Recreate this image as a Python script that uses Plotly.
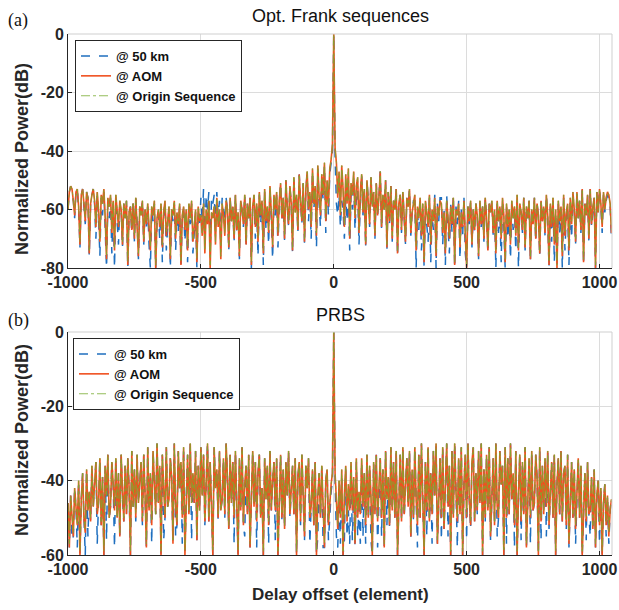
import plotly.graph_objects as go

# Delay offsets (elements), sampled every 5 elements: -1000 ... 1045
delay = list(range(-1000, 1046, 5))

# tick labels
xticks = [-1000, -500, 0, 500, 1000]
xtick_text = ["-1000", "-500", "0", "500", "1000"]
yticks_a = [-80, -60, -40, -20, 0]
ytick_text_a = ["-80", "-60", "-40", "-20", "0"]
yticks_b = [-60, -40, -20, 0]
ytick_text_b = ["-60", "-40", "-20", "0"]

# ---- Panel (a): Opt. Frank sequences (dB) ----
km50_a = [
    -60, -54, -52, -54, -57, -63, -54, -53, -60, -73, -55, -53, -59, -65, -54, -56, -76, -58, -55, -53,
    -58, -70, -55, -63, -76, -56, -62, -54, -67, -80, -58, -63, -56, -75, -58, -80, -56, -65, -72, -58,
    -60, -73, -58, -63, -57, -80, -61, -59, -68, -58, -71, -56, -64, -77, -59, -62, -57, -72, -60, -66,
    -59, -72, -80, -60, -64, -58, -80, -65, -61, -70, -59, -78, -62, -58, -74, -66, -60, -80, -61, -64,
    -58, -74, -62, -68, -59, -80, -63, -60, -71, -61, -78, -59, -65, -58, -75, -68, -61, -80, -60, -66,
    -56, -64, -53, -70, -55, -60, -54, -74, -56, -58, -55, -66, -54, -62, -57, -72, -56, -60, -64, -56,
    -60, -74, -56, -64, -59, -71, -55, -68, -61, -77, -57, -60, -66, -55, -73, -58, -63, -56, -80, -59,
    -56, -70, -59, -76, -55, -65, -58, -79, -54, -67, -60, -72, -53, -63, -77, -56, -62, -55, -73, -58,
    -51, -64, -56, -71, -50, -59, -66, -52, -58, -75, -49, -61, -55, -68, -48, -57, -65, -51, -72, -53,
    -48, -64, -55, -70, -47, -60, -54, -73, -46, -58, -66, -49, -57, -45, -68, -52, -62, -48, -44, -40,
    0,
    -42, -58, -62, -55, -66, -57, -60, -70, -56, -64, -52, -74, -55, -60, -50, -67, -56, -53, -72, -57,
    -48, -62, -53, -73, -50, -57, -66, -49, -59, -54, -70, -51, -62, -56, -47, -67, -55, -60, -50, -74,
    -54, -65, -52, -71, -57, -60, -53, -76, -58, -55, -68, -54, -62, -72, -56, -59, -53, -69, -61, -57,
    -57, -80, -61, -67, -58, -74, -60, -80, -59, -64, -71, -56, -78, -62, -67, -55, -80, -58, -64, -56,
    -56, -72, -60, -79, -55, -66, -75, -58, -68, -55, -80, -59, -65, -57, -77, -60, -69, -56, -75, -80,
    -59, -65, -57, -73, -60, -68, -58, -62, -77, -57, -66, -59, -71, -56, -63, -75, -58, -61, -57, -69,
    -61, -80, -58, -68, -60, -78, -57, -66, -80, -59, -70, -61, -77, -58, -67, -60, -74, -56, -80, -59,
    -61, -68, -56, -74, -59, -63, -57, -78, -60, -66, -56, -71, -58, -62, -76, -57, -64, -59, -69, -55,
    -63, -80, -59, -71, -57, -78, -61, -80, -58, -68, -60, -80, -56, -74, -62, -59, -79, -57, -70, -55,
    -60, -72, -54, -63, -57, -68, -53, -79, -58, -62, -55, -71, -53, -66, -59, -56, -80, -54, -61, -53,
    -59, -68, -55, -61, -57, -55, -56, -59, -70,
]
aom_a = [
    -60, -54, -52, -53, -57, -62, -54, -53, -59, -72, -55, -53, -58, -64, -54, -56, -75, -58, -55, -53,
    -57, -66, -54, -60, -71, -55, -58, -53, -63, -77, -56, -59, -55, -68, -57, -74, -55, -61, -66, -57,
    -60, -72, -58, -63, -57, -79, -61, -59, -67, -58, -70, -56, -64, -76, -59, -62, -57, -71, -60, -65,
    -58, -68, -74, -59, -62, -57, -80, -63, -60, -66, -58, -73, -61, -57, -69, -64, -59, -77, -60, -62,
    -57, -70, -61, -65, -58, -79, -62, -59, -67, -60, -74, -58, -63, -57, -71, -66, -60, -78, -59, -64,
    -62, -69, -58, -75, -60, -65, -57, -80, -61, -63, -59, -72, -56, -66, -60, -77, -58, -62, -69, -57,
    -60, -73, -56, -64, -59, -70, -55, -67, -61, -76, -57, -60, -65, -55, -72, -58, -63, -56, -79, -59,
    -55, -66, -58, -71, -54, -62, -57, -75, -53, -64, -59, -68, -52, -61, -73, -55, -60, -54, -69, -57,
    -51, -63, -56, -70, -50, -59, -65, -52, -58, -74, -49, -61, -55, -67, -48, -57, -64, -51, -71, -53,
    -47, -60, -54, -66, -46, -58, -52, -69, -45, -56, -62, -48, -55, -44, -64, -50, -59, -46, -43, -38,
    0,
    -39, -44, -56, -47, -62, -45, -53, -66, -48, -58, -46, -70, -51, -55, -47, -63, -52, -49, -68, -54,
    -48, -61, -53, -72, -50, -57, -65, -49, -59, -54, -69, -51, -62, -56, -47, -66, -55, -60, -50, -73,
    -54, -64, -52, -70, -57, -60, -53, -75, -58, -55, -67, -54, -62, -71, -56, -59, -53, -68, -61, -57,
    -55, -74, -59, -63, -56, -69, -58, -78, -57, -61, -66, -55, -72, -60, -64, -56, -76, -59, -62, -57,
    -58, -68, -61, -75, -57, -63, -70, -59, -65, -56, -79, -60, -62, -58, -73, -61, -66, -57, -71, -80,
    -59, -64, -57, -72, -60, -67, -58, -62, -76, -57, -65, -59, -70, -56, -63, -74, -58, -61, -57, -68,
    -60, -75, -57, -64, -59, -70, -56, -62, -78, -58, -66, -60, -72, -57, -63, -59, -69, -55, -74, -58,
    -61, -67, -56, -73, -59, -63, -57, -77, -60, -65, -56, -70, -58, -62, -75, -57, -64, -59, -68, -55,
    -62, -79, -58, -66, -56, -72, -60, -80, -57, -64, -59, -76, -55, -69, -61, -58, -74, -56, -65, -54,
    -60, -71, -54, -63, -57, -67, -53, -78, -58, -62, -55, -70, -53, -65, -59, -56, -80, -54, -61, -53,
    -58, -66, -54, -60, -56, -54, -55, -58, -68,
]
origin_a = [
    -60, -54, -52, -53, -57, -61, -54, -53, -59, -71, -55, -53, -58, -63, -54, -56, -74, -58, -55, -53,
    -57, -65, -54, -60, -70, -55, -58, -53, -63, -76, -56, -59, -55, -67, -57, -73, -55, -61, -65, -57,
    -60, -71, -58, -63, -57, -78, -61, -59, -66, -58, -69, -56, -64, -75, -59, -62, -57, -70, -60, -64,
    -58, -67, -73, -59, -62, -57, -79, -63, -60, -65, -58, -72, -61, -57, -68, -64, -59, -76, -60, -62,
    -57, -69, -61, -64, -58, -78, -62, -59, -66, -60, -73, -58, -63, -57, -70, -65, -60, -77, -59, -63,
    -62, -68, -58, -74, -60, -64, -57, -79, -61, -63, -59, -71, -56, -65, -60, -76, -58, -62, -68, -57,
    -60, -72, -56, -64, -59, -69, -55, -66, -61, -75, -57, -60, -64, -55, -71, -58, -63, -56, -78, -59,
    -55, -65, -58, -70, -54, -62, -57, -74, -53, -63, -59, -67, -52, -61, -72, -55, -60, -54, -68, -57,
    -51, -62, -56, -69, -50, -59, -64, -52, -58, -73, -49, -61, -55, -66, -48, -57, -63, -51, -70, -53,
    -47, -59, -54, -65, -46, -58, -52, -68, -45, -56, -61, -48, -55, -44, -63, -50, -58, -46, -43, -38,
    0,
    -39, -44, -55, -47, -61, -45, -53, -65, -48, -57, -46, -69, -51, -55, -47, -62, -52, -49, -67, -54,
    -48, -60, -53, -71, -50, -57, -64, -49, -59, -54, -68, -51, -61, -56, -47, -65, -55, -60, -50, -72,
    -54, -63, -52, -69, -57, -60, -53, -74, -58, -55, -66, -54, -62, -70, -56, -59, -53, -67, -61, -57,
    -55, -73, -59, -63, -56, -68, -58, -77, -57, -61, -65, -55, -71, -60, -64, -56, -75, -59, -62, -57,
    -58, -67, -61, -74, -57, -63, -69, -59, -64, -56, -78, -60, -62, -58, -72, -61, -65, -57, -70, -79,
    -59, -63, -57, -71, -60, -66, -58, -62, -75, -57, -64, -59, -69, -56, -63, -73, -58, -61, -57, -67,
    -60, -74, -57, -64, -59, -69, -56, -62, -77, -58, -65, -60, -71, -57, -63, -59, -68, -55, -73, -58,
    -61, -66, -56, -72, -59, -63, -57, -76, -60, -64, -56, -69, -58, -62, -74, -57, -63, -59, -67, -55,
    -62, -78, -58, -65, -56, -71, -60, -79, -57, -63, -59, -75, -55, -68, -61, -58, -73, -56, -64, -54,
    -60, -70, -54, -63, -57, -66, -53, -77, -58, -62, -55, -69, -53, -64, -59, -56, -79, -54, -61, -53,
    -58, -65, -54, -60, -56, -54, -55, -58, -67,
]

# ---- Panel (b): PRBS (dB) ----
km50_b = [
    -46, -58, -44, -56, -55, -42, -47, -58, -40, -60, -45, -38, -50, -60, -37, -55, -43, -51, -36, -47,
    -41, -35, -57, -46, -34, -52, -39, -60, -36, -56, -33, -50, -47, -35, -41, -58, -34, -50, -38, -55,
    -33, -45, -51, -36, -49, -34, -42, -60, -32, -47, -37, -51, -33, -46, -40, -35, -52, -33, -44, -58,
    -31, -48, -38, -57, -32, -43, -49, -30, -46, -36, -60, -33, -56, -50, -31, -47, -45, -34, -39, -57,
    -30, -55, -52, -32, -42, -35, -57, -31, -60, -44, -33, -49, -30, -56, -38, -46, -32, -56, -36, -48,
    -31, -44, -33, -52, -40, -30, -51, -35, -47, -60, -31, -42, -37, -51, -32, -48, -45, -34, -50, -30,
    -39, -53, -33, -46, -35, -57, -32, -43, -60, -34, -48, -31, -52, -55, -36, -49, -33, -58, -44, -32,
    -47, -35, -58, -38, -33, -50, -42, -60, -34, -45, -36, -57, -32, -48, -40, -35, -56, -34, -60, -43,
    -33, -51, -37, -53, -35, -44, -32, -50, -41, -36, -49, -34, -60, -39, -35, -52, -33, -46, -56, -36,
    -42, -34, -57, -47, -37, -52, -35, -60, -55, -38, -50, -36, -58, -58, -40, -37, -56, -50, -43, -40,
    0,
    -40, -55, -58, -45, -57, -39, -60, -56, -37, -55, -48, -57, -36, -56, -42, -58, -35, -55, -47, -57,
    -35, -55, -38, -57, -33, -50, -36, -56, -60, -35, -49, -33, -58, -42, -34, -55, -37, -58, -32, -52,
    -39, -53, -31, -48, -35, -51, -32, -60, -43, -33, -51, -31, -50, -40, -34, -47, -32, -56, -37, -51,
    -31, -45, -58, -33, -50, -30, -42, -60, -35, -55, -31, -51, -38, -57, -32, -44, -30, -57, -46, -34,
    -56, -31, -53, -39, -30, -55, -36, -60, -32, -50, -30, -43, -58, -34, -49, -31, -60, -41, -33, -56,
    -30, -45, -53, -35, -31, -51, -38, -49, -32, -46, -30, -60, -37, -51, -33, -48, -31, -56, -43, -34,
    -52, -30, -55, -50, -32, -41, -36, -60, -31, -57, -34, -49, -30, -45, -38, -58, -32, -60, -44, -33,
    -56, -35, -49, -31, -58, -42, -34, -57, -32, -48, -46, -33, -39, -60, -31, -56, -36, -49, -34, -55,
    -32, -53, -44, -35, -50, -33, -60, -41, -34, -50, -32, -51, -38, -36, -53, -33, -58, -46, -35, -50,
    -37, -57, -43, -34, -50, -36, -60, -45, -38, -56, -35, -49, -55, -39, -53, -37, -58, -44, -40, -57,
    -42, -60, -46, -41, -55, -44, -57, -48, -45,
]
aom_b = [
    -46, -58, -44, -50, -55, -42, -47, -52, -40, -60, -45, -38, -50, -54, -37, -48, -43, -51, -36, -47,
    -41, -35, -49, -46, -34, -52, -39, -60, -36, -44, -33, -50, -47, -35, -41, -48, -34, -50, -38, -55,
    -33, -45, -51, -36, -49, -34, -42, -60, -32, -47, -37, -50, -33, -46, -40, -35, -51, -33, -44, -58,
    -31, -48, -38, -52, -32, -43, -49, -30, -46, -36, -60, -33, -41, -50, -31, -47, -45, -34, -39, -57,
    -30, -47, -52, -32, -42, -35, -50, -31, -60, -44, -33, -49, -30, -46, -38, -46, -32, -56, -36, -48,
    -31, -44, -33, -51, -40, -30, -51, -35, -47, -60, -31, -42, -37, -50, -32, -48, -45, -34, -49, -30,
    -39, -53, -33, -46, -35, -50, -32, -43, -60, -34, -48, -31, -52, -41, -36, -49, -33, -58, -44, -32,
    -47, -35, -51, -38, -33, -50, -42, -60, -34, -45, -36, -52, -32, -48, -40, -35, -48, -34, -60, -43,
    -33, -50, -37, -53, -35, -44, -32, -49, -41, -36, -49, -34, -60, -39, -35, -51, -33, -46, -55, -36,
    -42, -34, -50, -47, -37, -52, -35, -60, -44, -38, -50, -36, -49, -58, -40, -37, -52, -45, -41, -38,
    0,
    -38, -46, -53, -40, -50, -37, -60, -44, -36, -51, -41, -48, -35, -48, -39, -57, -34, -50, -43, -49,
    -34, -47, -38, -52, -33, -50, -36, -44, -60, -35, -49, -33, -51, -42, -34, -50, -37, -58, -32, -45,
    -39, -52, -31, -48, -35, -50, -32, -60, -43, -33, -51, -31, -49, -40, -34, -47, -32, -55, -37, -50,
    -31, -45, -52, -33, -50, -30, -42, -60, -35, -48, -31, -51, -38, -49, -32, -44, -30, -57, -46, -34,
    -50, -31, -53, -39, -30, -47, -36, -60, -32, -50, -30, -43, -51, -34, -49, -31, -60, -41, -33, -50,
    -30, -45, -52, -35, -31, -51, -38, -48, -32, -46, -30, -60, -37, -50, -33, -48, -31, -55, -43, -34,
    -52, -30, -47, -50, -32, -41, -36, -60, -31, -50, -34, -49, -30, -45, -38, -52, -32, -60, -44, -33,
    -51, -35, -49, -31, -58, -42, -34, -50, -32, -48, -46, -33, -39, -60, -31, -51, -36, -49, -34, -47,
    -32, -52, -44, -35, -50, -33, -60, -41, -34, -49, -32, -51, -38, -36, -52, -33, -57, -46, -35, -50,
    -37, -53, -43, -34, -50, -36, -60, -45, -38, -51, -35, -49, -48, -39, -53, -37, -58, -44, -40, -52,
    -42, -60, -46, -41, -52, -44, -55, -48, -45,
]
origin_b = [
    -46, -57, -44, -50, -54, -42, -47, -52, -40, -59, -45, -38, -50, -53, -37, -48, -43, -50, -36, -47,
    -41, -35, -48, -46, -34, -51, -39, -59, -36, -44, -33, -50, -47, -35, -41, -47, -34, -50, -38, -54,
    -33, -45, -50, -36, -48, -34, -42, -59, -32, -47, -37, -49, -33, -46, -40, -35, -50, -33, -44, -57,
    -31, -47, -38, -51, -32, -43, -49, -30, -46, -36, -59, -33, -41, -49, -31, -47, -45, -34, -39, -56,
    -30, -46, -51, -32, -42, -35, -49, -31, -59, -44, -33, -48, -30, -46, -38, -45, -32, -55, -36, -48,
    -31, -44, -33, -50, -40, -30, -50, -35, -47, -59, -31, -42, -37, -49, -32, -48, -45, -34, -48, -30,
    -39, -52, -33, -46, -35, -49, -32, -43, -59, -34, -47, -31, -51, -41, -36, -48, -33, -57, -44, -32,
    -46, -35, -50, -38, -33, -49, -42, -59, -34, -45, -36, -51, -32, -47, -40, -35, -47, -34, -59, -43,
    -33, -49, -37, -52, -35, -44, -32, -48, -41, -36, -48, -34, -59, -39, -35, -50, -33, -46, -54, -36,
    -42, -34, -49, -46, -37, -51, -35, -59, -44, -38, -49, -36, -48, -57, -40, -37, -51, -45, -41, -38,
    0,
    -38, -45, -52, -40, -49, -37, -59, -44, -36, -50, -41, -47, -35, -47, -39, -56, -34, -49, -43, -48,
    -34, -46, -38, -51, -33, -49, -36, -44, -59, -35, -48, -33, -50, -42, -34, -49, -37, -57, -32, -45,
    -39, -51, -31, -47, -35, -49, -32, -59, -43, -33, -50, -31, -48, -40, -34, -46, -32, -54, -37, -49,
    -31, -45, -51, -33, -49, -30, -42, -59, -35, -47, -31, -50, -38, -48, -32, -44, -30, -56, -45, -34,
    -49, -31, -52, -39, -30, -46, -36, -59, -32, -49, -30, -43, -50, -34, -48, -31, -59, -41, -33, -49,
    -30, -44, -51, -35, -31, -50, -38, -47, -32, -45, -30, -59, -37, -49, -33, -47, -31, -54, -43, -34,
    -51, -30, -46, -49, -32, -41, -36, -59, -31, -49, -34, -48, -30, -44, -38, -51, -32, -59, -43, -33,
    -50, -35, -48, -31, -57, -42, -34, -49, -32, -47, -45, -33, -39, -59, -31, -50, -36, -48, -34, -46,
    -32, -51, -43, -35, -49, -33, -59, -41, -34, -48, -32, -50, -38, -36, -51, -33, -56, -45, -35, -49,
    -37, -52, -42, -34, -49, -36, -59, -44, -38, -50, -35, -48, -47, -39, -52, -37, -57, -43, -40, -51,
    -42, -59, -45, -41, -51, -44, -54, -47, -45,
]

for _s in (km50_a, aom_a, origin_a, km50_b, aom_b, origin_b):
    assert len(_s) == len(delay), (len(_s), len(delay))

names = ["@ 50 km", "@ AOM", "@ Origin Sequence"]
BLUE, RED, GREEN = "#1f6fbf", "#f0501f", "#77ac30"
FONT = "Liberation Sans, Arial, sans-serif"
SERIF = "Liberation Serif, Times New Roman, serif"

W, H = 619, 610
L, R, T, B = 68, 7, 34, 55
PW, PH = W - L - R, H - T - B


def px(xp):
    return (xp - L) / PW


def py(yp):
    return 1 - (yp - T) / PH


DOM_A = [py(268), 1.0]
DOM_B = [0.0, py(332)]

fig = go.Figure()


def add_panel(ys, xa, ya, legend):
    styles = [(BLUE, "dash", 1.5), (RED, "solid", 1.6), (GREEN, "dashdot", 0.8)]
    for y, name, (c, d, w) in zip(ys, names, styles):
        fig.add_trace(go.Scatter(
            x=delay, y=y, mode="lines", name=name,
            line=dict(color=c, dash=d, width=w),
            xaxis=xa, yaxis=ya, legend=legend,
        ))


add_panel([km50_a, aom_a, origin_a], "x", "y", "legend")
add_panel([km50_b, aom_b, origin_b], "x2", "y2", "legend2")

axis_common = dict(
    showgrid=True, gridcolor="#dcdcdc", gridwidth=1,
    showline=True, linecolor="#262626", linewidth=1,
    ticks="inside", ticklen=4, tickcolor="#262626",
    tickfont=dict(family=FONT, size=16, color="#262626", weight="bold"),
    zeroline=False, automargin=False,
)

legend_common = dict(
    xanchor="left", yanchor="top",
    bgcolor="white", bordercolor="#262626", borderwidth=1,
    font=dict(family=FONT, size=13, color="#111", weight="bold"),
    itemwidth=30, tracegroupgap=0,
)

fig.update_layout(
    width=W, height=H,
    margin=dict(l=L, r=R, t=T, b=B, autoexpand=False),
    paper_bgcolor="white", plot_bgcolor="white",
    xaxis=dict(domain=[0, 1], anchor="y", range=[-1000, 1047],
               tickvals=xticks, ticktext=xtick_text, **axis_common),
    yaxis=dict(domain=DOM_A, anchor="x", range=[-80, 0],
               tickvals=yticks_a, ticktext=ytick_text_a, **axis_common),
    xaxis2=dict(domain=[0, 1], anchor="y2", range=[-1000, 1047],
                tickvals=xticks, ticktext=xtick_text, **axis_common),
    yaxis2=dict(domain=DOM_B, anchor="x2", range=[-60, 0],
                tickvals=yticks_b, ticktext=ytick_text_b, **axis_common),
    legend=dict(x=px(75), y=py(40), **legend_common),
    legend2=dict(x=px(73), y=py(338), **legend_common),
    showlegend=True,
)

# light top / right box edges (MATLAB style)
for xr, yr in [("x domain", "y domain"), ("x2 domain", "y2 domain")]:
    fig.add_shape(type="line", xref=xr, yref=yr, x0=0, x1=1, y0=1, y1=1,
                  line=dict(color="#cfcfcf", width=1))
    fig.add_shape(type="line", xref=xr, yref=yr, x0=1, x1=1, y0=0, y1=1,
                  line=dict(color="#cfcfcf", width=1))

ann = [
    dict(text="Opt. Frank sequences", x=px(340), y=py(16), font=dict(family=FONT, size=18, color="#111")),
    dict(text="PRBS", x=px(340), y=py(315), font=dict(family=FONT, size=18, color="#111")),
    dict(text="(a)", x=px(18), y=py(21), font=dict(family=SERIF, size=18, color="#111")),
    dict(text="(b)", x=px(18), y=py(320), font=dict(family=SERIF, size=18, color="#111")),
    dict(text="Normalized Power(dB)", x=px(22), y=py(159), textangle=-90,
         font=dict(family=FONT, size=18, color="#262626", weight="bold")),
    dict(text="Normalized Power(dB)", x=px(22), y=py(440), textangle=-90,
         font=dict(family=FONT, size=18, color="#262626", weight="bold")),
    dict(text="Delay offset (element)", x=px(340), y=py(594),
         font=dict(family=FONT, size=17, color="#262626", weight="bold")),
]
for a in ann:
    a.update(xref="paper", yref="paper", showarrow=False, xanchor="center", yanchor="middle")
fig.update_layout(annotations=ann)

fig.write_html("out.html", config={"displayModeBar": False},
               post_script="document.body.style.margin='0px';")
